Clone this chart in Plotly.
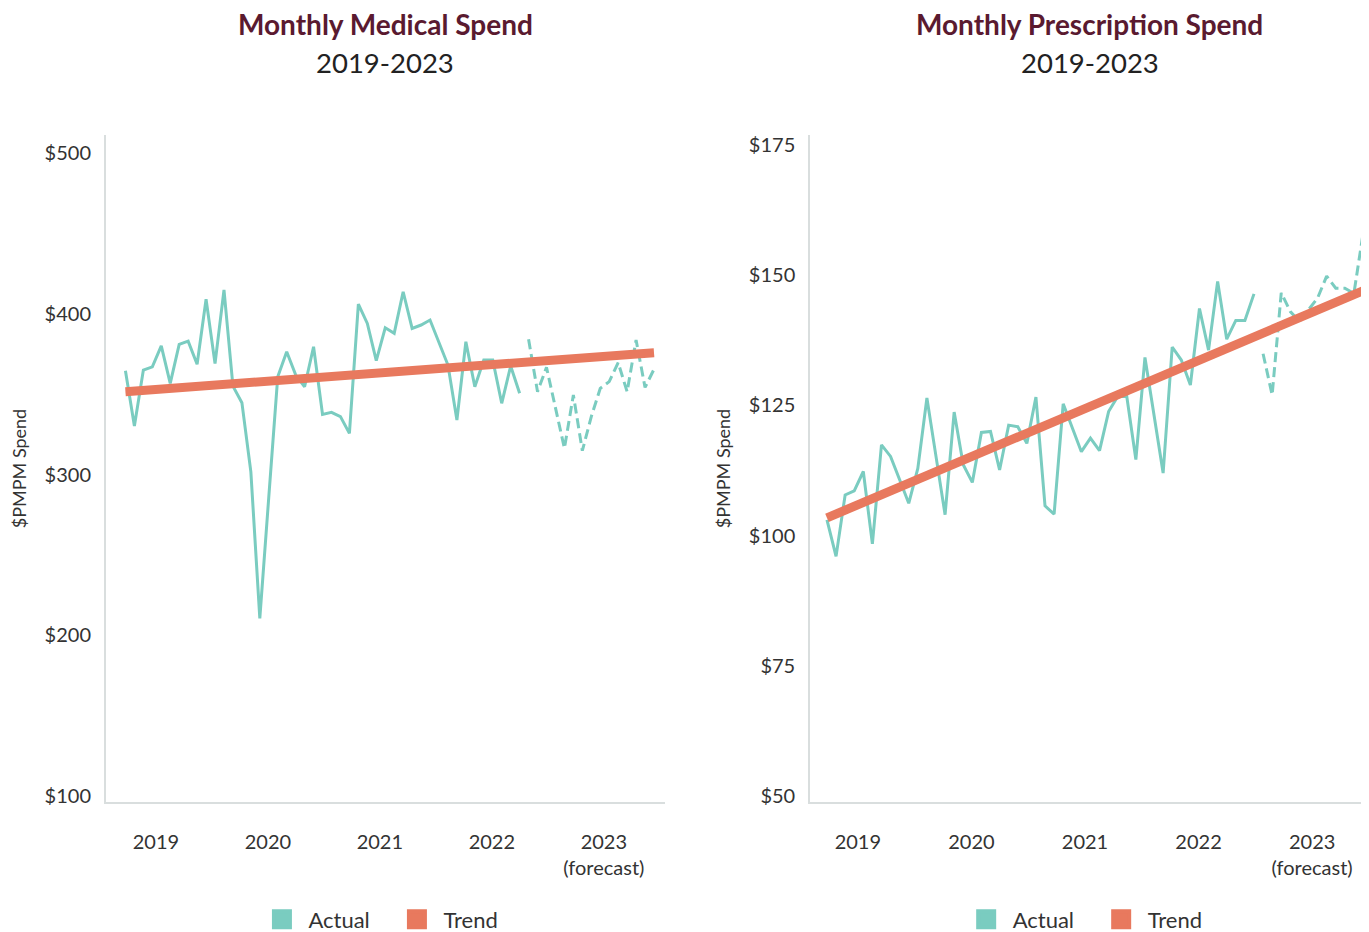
import plotly.graph_objects as go

# Colours
TEAL = "#7ACCC0"
ORANGE = "#E8795E"
MAROON = "#5A1A30"
AXIS_GREY = "#D9DEDE"
TEXT = "#333333"
FONT = "Lato"

# Monthly medical spend ($PMPM), actual months then forecast months
med_actual = [364.6, 330.2, 365.0, 367.0, 380.0, 356.7, 381.0, 383.0, 368.6, 409.0,
              369.0, 414.8, 355.0, 344.7, 301.7, 210.5, 286.0, 360.8, 376.4, 362.0,
              354.6, 379.5, 337.4, 338.7, 336.0, 325.6, 406.0, 394.0, 370.8, 391.3,
              387.8, 413.7, 390.9, 393.0, 396.1, 382.6, 368.1, 333.9, 382.6, 354.6,
              371.2, 371.2, 344.3, 367.5, 350.5]
med_forecast = [384.1, 351.5, 366.7, 341.2, 316.3, 349.5, 314.8, 336.0, 353.6, 357.8,
                369.6, 351.5, 383.7, 354.2, 365.5]
med_trend = [351.5, 375.8]  # start / end of trend line

# Monthly prescription spend ($PMPM)
rx_actual = [103.0, 96.0, 107.8, 108.6, 112.3, 98.4, 117.4, 115.2, 110.7, 106.2,
             112.9, 126.4, 115.2, 104.0, 123.7, 113.6, 110.2, 119.8, 120.0, 112.6,
             121.2, 120.9, 117.7, 126.6, 105.7, 104.1, 125.3, 120.6, 116.1, 118.7,
             116.3, 123.8, 126.7, 126.7, 114.6, 134.2, 123.1, 112.0, 136.2, 133.7,
             128.9, 143.6, 135.6, 148.8, 137.7, 141.3, 141.3, 146.4]
rx_forecast = [134.9, 127.0, 146.6, 143.0, 141.1, 143.3, 145.6, 149.8, 147.5, 147.5,
               146.5, 157.9]
rx_trend = [103.4, 147.0]

year_labels = ["2019", "2020", "2021", "2022", "2023<br>(forecast)"]

panels = [
    # (axis suffix, legend id, title, actual, forecast, trend, y range, y ticks, x range)
    ("", "legend", "Monthly Medical Spend", med_actual, med_forecast, med_trend,
     [96.3, 511.2], [100, 200, 300, 400, 500], [-2.17, 60.2]),
    ("2", "legend2", "Monthly Prescription Spend", rx_actual, rx_forecast, rx_trend,
     [48.85, 176.9], [50, 75, 100, 125, 150, 175], [-1.84, 59.66]),
]

domains = [[0, 0.4424], [0.5576, 1.0]]
tick_pos = [3.4, 15.9, 28.4, 40.9, 53.4]

fig = go.Figure()

for k, (ax, leg, title, actual, forecast, trend, yr, yt, xr) in enumerate(panels):
    n_act = len(actual)
    n_all = n_act + len(forecast)
    xa = "x" + ax
    ya = "y" + ax

    # actual months - solid
    fig.add_trace(go.Scatter(x=list(range(n_act)), y=actual, mode="lines",
                             line=dict(color=TEAL, width=3), showlegend=False,
                             xaxis=xa, yaxis=ya))
    # forecast months - dashed, not joined to the actual line
    fig.add_trace(go.Scatter(x=list(range(n_act, n_all)), y=forecast, mode="lines",
                             line=dict(color=TEAL, width=3, dash="10px,5px"),
                             showlegend=False, xaxis=xa, yaxis=ya))
    # trend line
    fig.add_trace(go.Scatter(x=[0, n_all - 1], y=trend, mode="lines",
                             line=dict(color=ORANGE, width=9), showlegend=False,
                             xaxis=xa, yaxis=ya))

    # legend entries as squares
    for name, col in [("Actual", TEAL), ("Trend", ORANGE)]:
        fig.add_trace(go.Scatter(x=[None], y=[None], mode="markers", name=name,
                                 marker=dict(symbol="square", size=16, color=col,
                                             line=dict(color=col, width=4)),
                                 legend=leg, xaxis=xa, yaxis=ya))

    xcenter = sum(domains[k]) / 2

    fig.update_layout(**{
        "xaxis" + ax: dict(domain=domains[k], range=xr, tickvals=tick_pos,
                           ticktext=year_labels, showgrid=False, zeroline=False,
                           showline=True, linecolor=AXIS_GREY, linewidth=2,
                           ticklabelstandoff=21, anchor=ya, automargin=False,
                           tickfont=dict(size=20, color=TEXT)),
        "yaxis" + ax: dict(range=yr, tickvals=yt, ticktext=[f"${v}" for v in yt],
                           showgrid=False, zeroline=False, showline=True,
                           linecolor=AXIS_GREY, linewidth=2, anchor=xa,
                           ticklabelstandoff=9, automargin=False,
                           tickfont=dict(size=20, color=TEXT),
                           title=dict(text="$PMPM Spend", standoff=14,
                                      font=dict(size=18, color=TEXT))),
        leg: dict(orientation="h", x=xcenter + 0.004, xanchor="center",
                  yref="container", y=0.022, yanchor="middle",
                  font=dict(size=22, color=TEXT),
                  itemwidth=43, entrywidth=77, entrywidthmode="pixels"),
    })

    fig.add_annotation(text=f"<b>{title}</b>", x=xcenter, xref="paper",
                       xanchor="center", y=1.1664, yref="paper", showarrow=False,
                       yanchor="middle",
                       font=dict(size=28, color=MAROON, family=FONT))
    fig.add_annotation(text="2019-2023", x=xcenter, xref="paper", xanchor="center",
                       y=1.108, yref="paper", showarrow=False, yanchor="middle",
                       font=dict(size=27.5, color="#222222", family=FONT))

# the page adds an 8px body margin, so the figure margins are 8px smaller
fig.update_layout(
    width=1369, height=932,
    margin=dict(l=97.5, r=8, t=127, b=138, autoexpand=False),
    plot_bgcolor="white", paper_bgcolor="white",
    font=dict(family=FONT, color=TEXT),
)

fig.write_html("out.html")
